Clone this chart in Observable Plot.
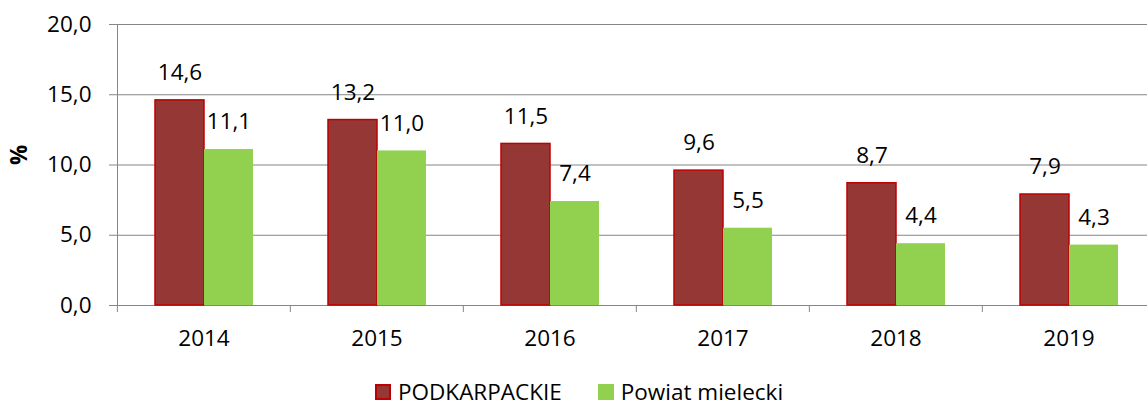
<!DOCTYPE html>
<html>
<head>
<meta charset="utf-8">
<script src="https://cdn.jsdelivr.net/npm/d3@7"></script>
<script src="https://cdn.jsdelivr.net/npm/@observablehq/plot@0.6"></script>
<style>
  html, body { margin: 0; padding: 0; background: #fff; }
  body { width: 1147px; height: 405px; overflow: hidden; position: relative; font-family: 'Open Sans', sans-serif; }
  #legend { position: absolute; left: 375px; top: 382px; display: flex; align-items: center; font-size: 22.5px; line-height: 0.9; color: #000; }
  .sw { width: 16px; height: 16px; box-sizing: border-box; margin-right: 7px; }
  .item { display: flex; align-items: center; margin-right: 36px; }
</style>
</head>
<body>
<div id="chart"></div>
<div id="legend"></div>
<script>
const years = ["2014", "2015", "2016", "2017", "2018", "2019"];
const podkarpackie = [14.6, 13.2, 11.5, 9.6, 8.7, 7.9];
const powiatMielecki = [11.1, 11.0, 7.4, 5.5, 4.4, 4.3];
const seriesNames = ["PODKARPACKIE", "Powiat mielecki"];
const seriesColors = ["#953735", "#92D050"];
const yTicks = [0, 5, 10, 15, 20];
const yLabel = "%";

const data = years.flatMap((yr, i) => [
  {year: yr, series: seriesNames[0], value: podkarpackie[i]},
  {year: yr, series: seriesNames[1], value: powiatMielecki[i]}
]);

const fmt = v => v.toFixed(1).replace(".", ",");
const W = 1147, ML = 116, MR = -9;
const step = (W - ML - MR) / years.length;
const gridColor = "#868686";
const FS = 22.5;

const chart = Plot.plot({
  width: W,
  height: 370,
  marginLeft: ML,
  marginRight: MR,
  marginTop: 24,
  marginBottom: 65,
  style: {fontFamily: "'Open Sans', sans-serif", fontSize: FS + "px", color: "#000", background: "#fff"},
  fx: {domain: years, paddingInner: 0, paddingOuter: 0, label: null, axis: null},
  x: {domain: seriesNames, paddingInner: 0, paddingOuter: 0.733, axis: null},
  y: {domain: [0, 20], axis: null},
  color: {domain: seriesNames, range: seriesColors},
  marks: [
    Plot.gridY(yTicks, {stroke: gridColor, strokeOpacity: 1, strokeWidth: 1}),
    Plot.axisY(yTicks, {tickSize: 8, tickPadding: 18, stroke: gridColor, tickFormat: fmt, label: null, fontSize: FS}),
    Plot.text([yLabel], {frameAnchor: "left", dx: -98, rotate: -90, fontWeight: "bold", fontSize: FS, facetAnchor: "left"}),
    Plot.frame({anchor: "left", stroke: gridColor, facetAnchor: "left"}),
    Plot.ruleY([0], {stroke: gridColor}),
    Plot.barY(data.filter(d => d.series === seriesNames[0]), {fx: "year", x: "series", y: "value", fill: "series", stroke: "#C00000", strokeWidth: 1.5}),
    Plot.barY(data.filter(d => d.series === seriesNames[1]), {fx: "year", x: "series", y: "value", fill: "series"}),
    Plot.text(data, {fx: "year", x: "series", y: "value", text: d => fmt(d.value), dy: -27.5, fill: "#000", fontSize: FS}),
    Plot.axisFx({anchor: "bottom", tickSize: 0, tickPadding: 25, label: null, fontSize: FS}),
    Plot.axisFx({anchor: "bottom", tickSize: 7, text: null, label: null, dx: -step / 2, stroke: gridColor})
  ]
});
document.getElementById("chart").appendChild(chart);

const legend = document.getElementById("legend");
seriesNames.forEach((name, i) => {
  const item = document.createElement("div");
  item.className = "item";
  const sw = document.createElement("div");
  sw.className = "sw";
  sw.style.background = seriesColors[i];
  if (i === 0) sw.style.border = "2px solid #C00000";
  const t = document.createElement("span");
  t.textContent = name;
  item.appendChild(sw);
  item.appendChild(t);
  legend.appendChild(item);
});
</script>
</body>
</html>
